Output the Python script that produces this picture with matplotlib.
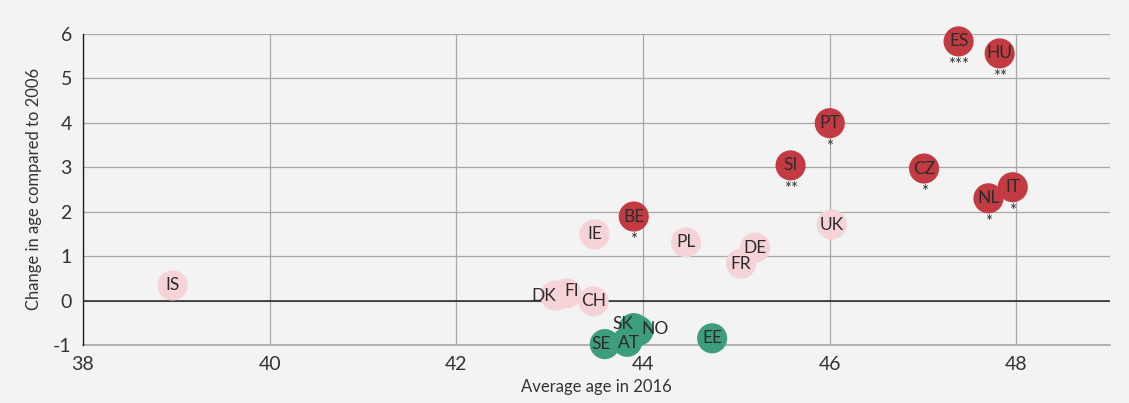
from matplotlib import pyplot as plt

plt.rcParams["font.family"] = ["Lato", "DejaVu Sans"]
plt.rcParams["axes.unicode_minus"] = False

# Données
countries = ["IS", "DK", "FI", "CH", "IE", "PL", "DE", "FR", "UK",
             "SK", "NO", "AT", "SE", "EE",
             "BE", "ES", "HU", "PT", "SI", "CZ", "NL", "IT"]
avg_age = [38.96, 43.06, 43.18, 43.47, 43.48, 44.46, 45.2, 45.05, 46.02,
           43.9, 43.95, 43.83, 43.59, 44.74,
           43.9, 47.38, 47.82, 46.0, 45.58, 47.01, 47.7, 47.96]
change = [0.34, 0.11, 0.16, -0.02, 1.49, 1.31, 1.19, 0.83, 1.71,
          -0.62, -0.68, -0.93, -0.98, -0.85,
          1.89, 5.83, 5.56, 3.99, 3.04, 2.97, 2.3, 2.55]
group = ["pink"] * 9 + ["green"] * 5 + ["red"] * 8
stars = {"ES": "***", "HU": "**", "PT": "*", "SI": "**", "CZ": "*",
         "NL": "*", "IT": "*", "BE": "*"}

colors = {"pink": "#f5d3d6", "green": "#3f9d7f", "red": "#c23a42"}
label_offset = {"DK": (-8, 0), "FI": (4, 2), "SK": (-8, 3), "NO": (12, 1),
                "AT": (1, -1), "SE": (-3, 0)}

bg = "#f2f3f2"
fig = plt.figure(figsize=(11.29, 4.03), dpi=100, facecolor=bg)
ax = fig.add_axes([0.0735, 0.144, 0.9095, 0.772], facecolor=bg)
ax.set_axisbelow(True)

for i, c in enumerate(countries):
    ax.scatter(avg_age[i], change[i], s=470, color=colors[group[i]],
               edgecolors="none", zorder=3, clip_on=False)

for i, c in enumerate(countries):
    dx, dy = label_offset.get(c, (0, 0))
    ax.annotate(c, (avg_age[i], change[i]), xytext=(dx, dy),
                textcoords="offset points", ha="center", va="center",
                fontsize=12.5, color="#2b2b2b", zorder=4)
    if c in stars:
        ax.annotate(stars[c], (avg_age[i], change[i]), xytext=(0, -17),
                    textcoords="offset points", ha="center", va="center",
                    fontsize=12, color="#333333", zorder=4)

ax.set_xlim(38, 49)
ax.set_ylim(-1, 6)
ax.set_xticks([38, 40, 42, 44, 46, 48])
ax.set_yticks(range(-1, 7))
ax.grid(True, color="#a8a8a8", linewidth=0.9)
ax.axhline(-1, color="#a8a8a8", linewidth=1.2, zorder=0, clip_on=False)
ax.axhline(0, color="#222222", linewidth=1.1, zorder=2)

for s in ["top", "right", "bottom"]:
    ax.spines[s].set_visible(False)
ax.spines["left"].set_color("#222222")
ax.spines["left"].set_linewidth(1.0)
ax.tick_params(length=0, labelsize=14, colors="#333333", pad=8)

ax.set_xlabel("Average age in 2016", fontsize=12, color="#333333", labelpad=4)
ax.set_ylabel("Change in age compared to 2006", fontsize=12, color="#333333",
              labelpad=8)

fig.savefig("out.png", dpi=100, facecolor=bg)
